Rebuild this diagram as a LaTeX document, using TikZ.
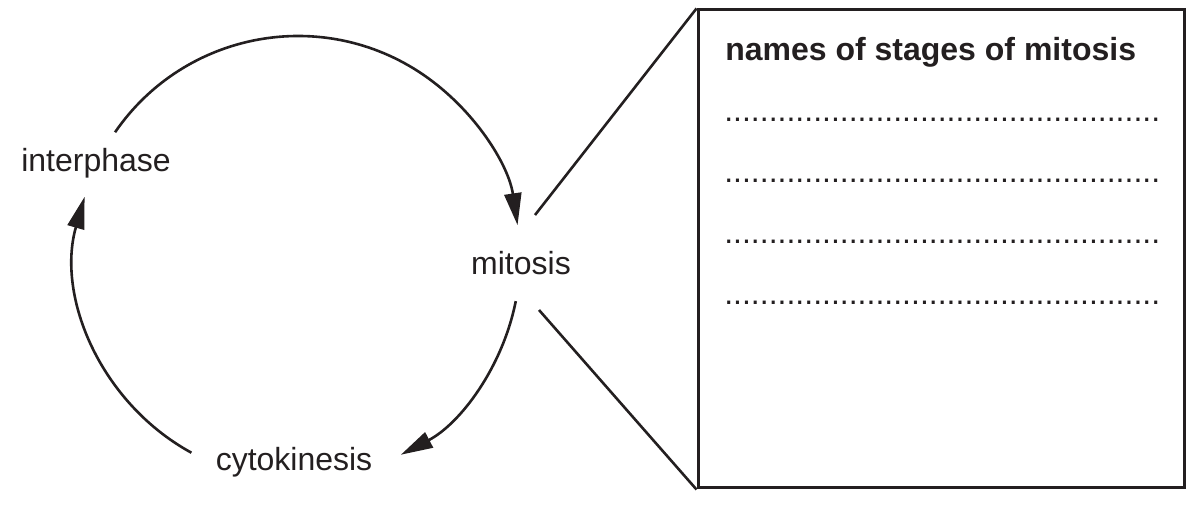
\documentclass[tikz,border=0pt]{standalone}
\usepackage{fontspec}
\setmainfont{Liberation Sans}
\usetikzlibrary{arrows.meta,calc}
\definecolor{ink}{HTML}{231F20}

\begin{document}
\begin{tikzpicture}
  [x=1pt,y=1pt,line width=2.6pt,draw=ink,
   every node/.style={inner sep=0pt,text=ink,font=\fontsize{32}{38}\selectfont},
   cyclearrow/.style={-{Triangle[length=32pt,width=17pt]}},
   answerbox/.style={draw=ink,line width=3pt,minimum width=486pt,minimum height=478pt}]
  \useasboundingbox (0,0) rectangle (1191,513);

  % labels of the cycle
  \node[anchor=base] (interphase)  at (96,341) {interphase};
  \node[anchor=base] (mitosis)     at (521,238) {mitosis};
  \node[anchor=base] (cytokinesis) at (294,42) {cytokinesis};

  % circle of the cycle
  \coordinate (O) at (298,255);
  \coordinate (a1) at ($(O)+(145.5:222)$);
  \coordinate (a2) at ($(O)+(241.3:222)$);
  \coordinate (a3) at ($(O)+(-11.2:222)$);
  \draw[cyclearrow] (a1) arc[start angle=145.5,end angle=8.5,radius=222];
  \draw[cyclearrow] (a2) arc[start angle=241.3,end angle=164,radius=222];
  \draw[cyclearrow] (a3) arc[start angle=-11.2,end angle=-62.4,radius=222];

  % box of the stages
  \node[answerbox] (box) at (941,264) {};
  \node[anchor=base west,font=\fontsize{32}{38}\selectfont\bfseries] (title) at (724,452) {names of stages of mitosis};
  \foreach \y/\n in {391.5/1,330.5/2,269.5/3,208.5/4}
    \node[anchor=base west] (line\n) at (723,\y) {.................................................};

  \coordinate (m1) at (535,298);
  \coordinate (m2) at (539,203);
  \draw (m1) -- (box.north west);
  \draw (m2) -- (box.south west);
\end{tikzpicture}
\end{document}
